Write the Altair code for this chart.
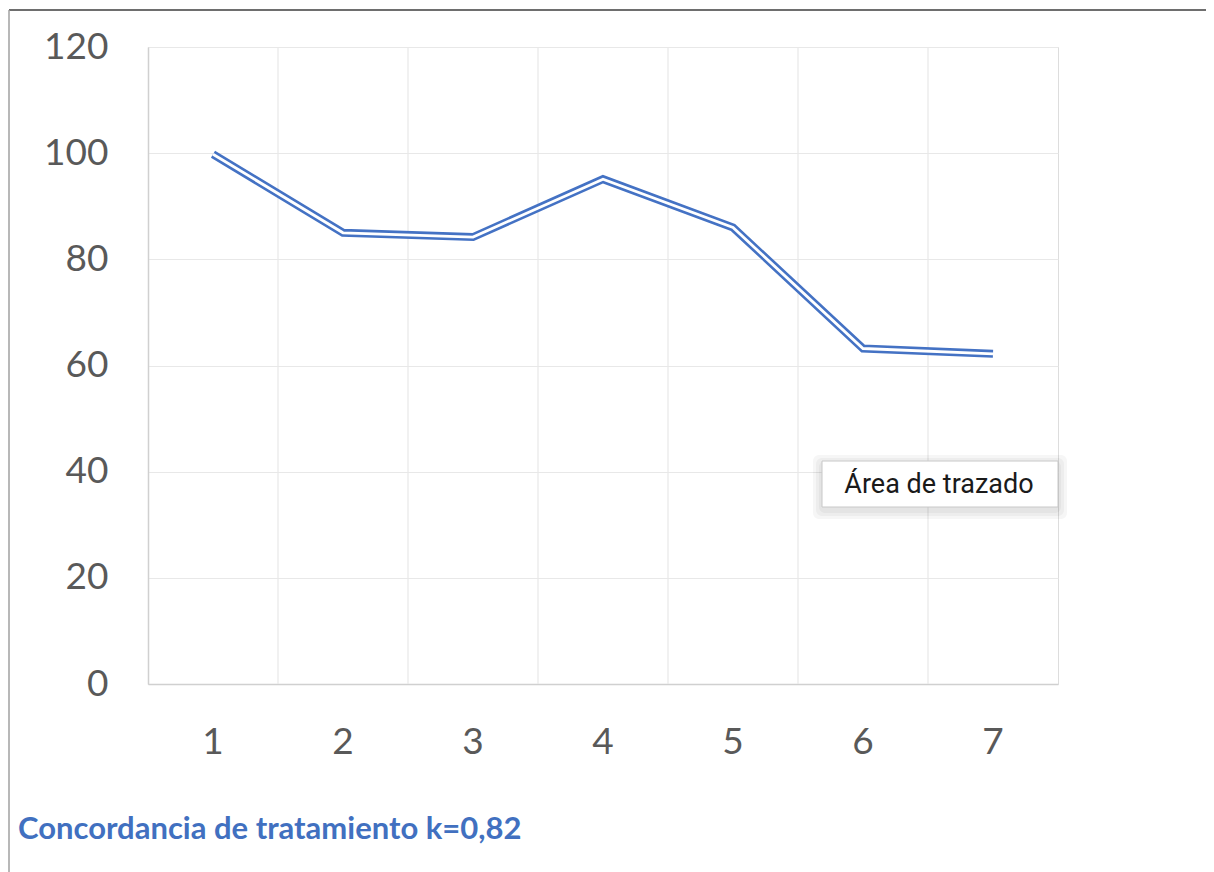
import altair as alt
import pandas as pd

# ---- data ----
categories = ["1", "2", "3", "4", "5", "6", "7"]
values = [99.8, 85.0, 84.2, 95.1, 86.0, 63.2, 62.2]
y_ticks = [0, 20, 40, 60, 80, 100, 120]
boundary_cats = ["2", "3", "4", "5", "6", "7"]  # vertical gridlines sit at the start of these bands
title_text = "Concordancia de tratamiento k=0,82"
tooltip_text = "Área de trazado"

df = pd.DataFrame({"cat": categories, "val": values})
grid_df = pd.DataFrame({"cat": boundary_cats})
one = pd.DataFrame({"k": [0]})

BLUE = "#4472C4"
W, H = 910, 637

x_scale = alt.Scale(domain=categories, paddingInner=0, paddingOuter=0)
y_scale = alt.Scale(domain=[0, 120], nice=False)

x_axis = alt.Axis(labelAngle=0, ticks=False, domain=True, domainColor="#d0d0d0",
                  domainWidth=1.5, grid=False, labelFontSize=37, labelFont="Lato",
                  labelColor="#595959", labelPadding=40)
y_axis = alt.Axis(values=y_ticks, ticks=False, domain=True, domainColor="#d0d0d0",
                  domainWidth=1.5, grid=True, gridColor="#e8e8e8", gridWidth=1.2,
                  labelFontSize=37, labelFont="Lato", labelColor="#595959",
                  labelPadding=40)

vgrid = alt.Chart(grid_df).mark_rule(color="#e8e8e8", strokeWidth=1.2).encode(
    x=alt.X("cat:O", scale=x_scale, bandPosition=0, axis=x_axis, title=None),
)

outer = alt.Chart(df).mark_line(color=BLUE, strokeWidth=8, strokeJoin="miter").encode(
    x=alt.X("cat:O", scale=x_scale, axis=x_axis, title=None),
    y=alt.Y("val:Q", scale=y_scale, axis=y_axis, title=None),
)
inner = alt.Chart(df).mark_line(color="white", strokeWidth=2.8, strokeJoin="miter").encode(
    x=alt.X("cat:O", scale=x_scale, axis=x_axis, title=None),
    y=alt.Y("val:Q", scale=y_scale, axis=y_axis, title=None),
)

# decorative frame of the chart area (screenshot border), tooltip box and caption
frame_top = alt.Chart(one).mark_rule(color="#6e6e6e", strokeWidth=2).encode(
    x=alt.value(-139), x2=alt.value(1066), y=alt.value(-37)
)
frame_left = alt.Chart(one).mark_rule(color="#a0a0a0", strokeWidth=1.5).encode(
    x=alt.value(-139), y=alt.value(-37), y2=alt.value(830)
)
shadows = [
    alt.Chart(one).mark_rect(color="#000000", opacity=0.035, cornerRadius=6).encode(
        x=alt.value(674 - d), x2=alt.value(910 + d), y=alt.value(414 - d + 3), y2=alt.value(460 + d + 3)
    )
    for d in (3, 6, 9)
]
box = alt.Chart(one).mark_rect(fill="white", stroke="#c8c8c8", strokeWidth=1).encode(
    x=alt.value(674), x2=alt.value(910), y=alt.value(414), y2=alt.value(460)
)
tip = alt.Chart(one).mark_text(text=tooltip_text, font="Roboto", fontSize=27,
                               color="#1a1a1a", align="center", baseline="middle").encode(
    x=alt.value(791), y=alt.value(438)
)
caption = alt.Chart(one).mark_text(text=title_text, font="Lato", fontSize=31, fontWeight="bold",
                                   color="#4170C0", align="left", baseline="alphabetic").encode(
    x=alt.value(-130), y=alt.value(792)
)

chart = alt.layer(vgrid, outer, inner, frame_top, frame_left, *shadows, box, tip, caption).properties(
    width=W, height=H,
    padding={"left": 140, "top": 39, "right": 148, "bottom": 190},
    autosize=alt.AutoSizeParams(type="none"),
).configure_view(stroke="#e4e4e4", strokeWidth=1.5).configure(background="white")

chart.save("out.html", embed_options={"renderer": "svg", "actions": False})
